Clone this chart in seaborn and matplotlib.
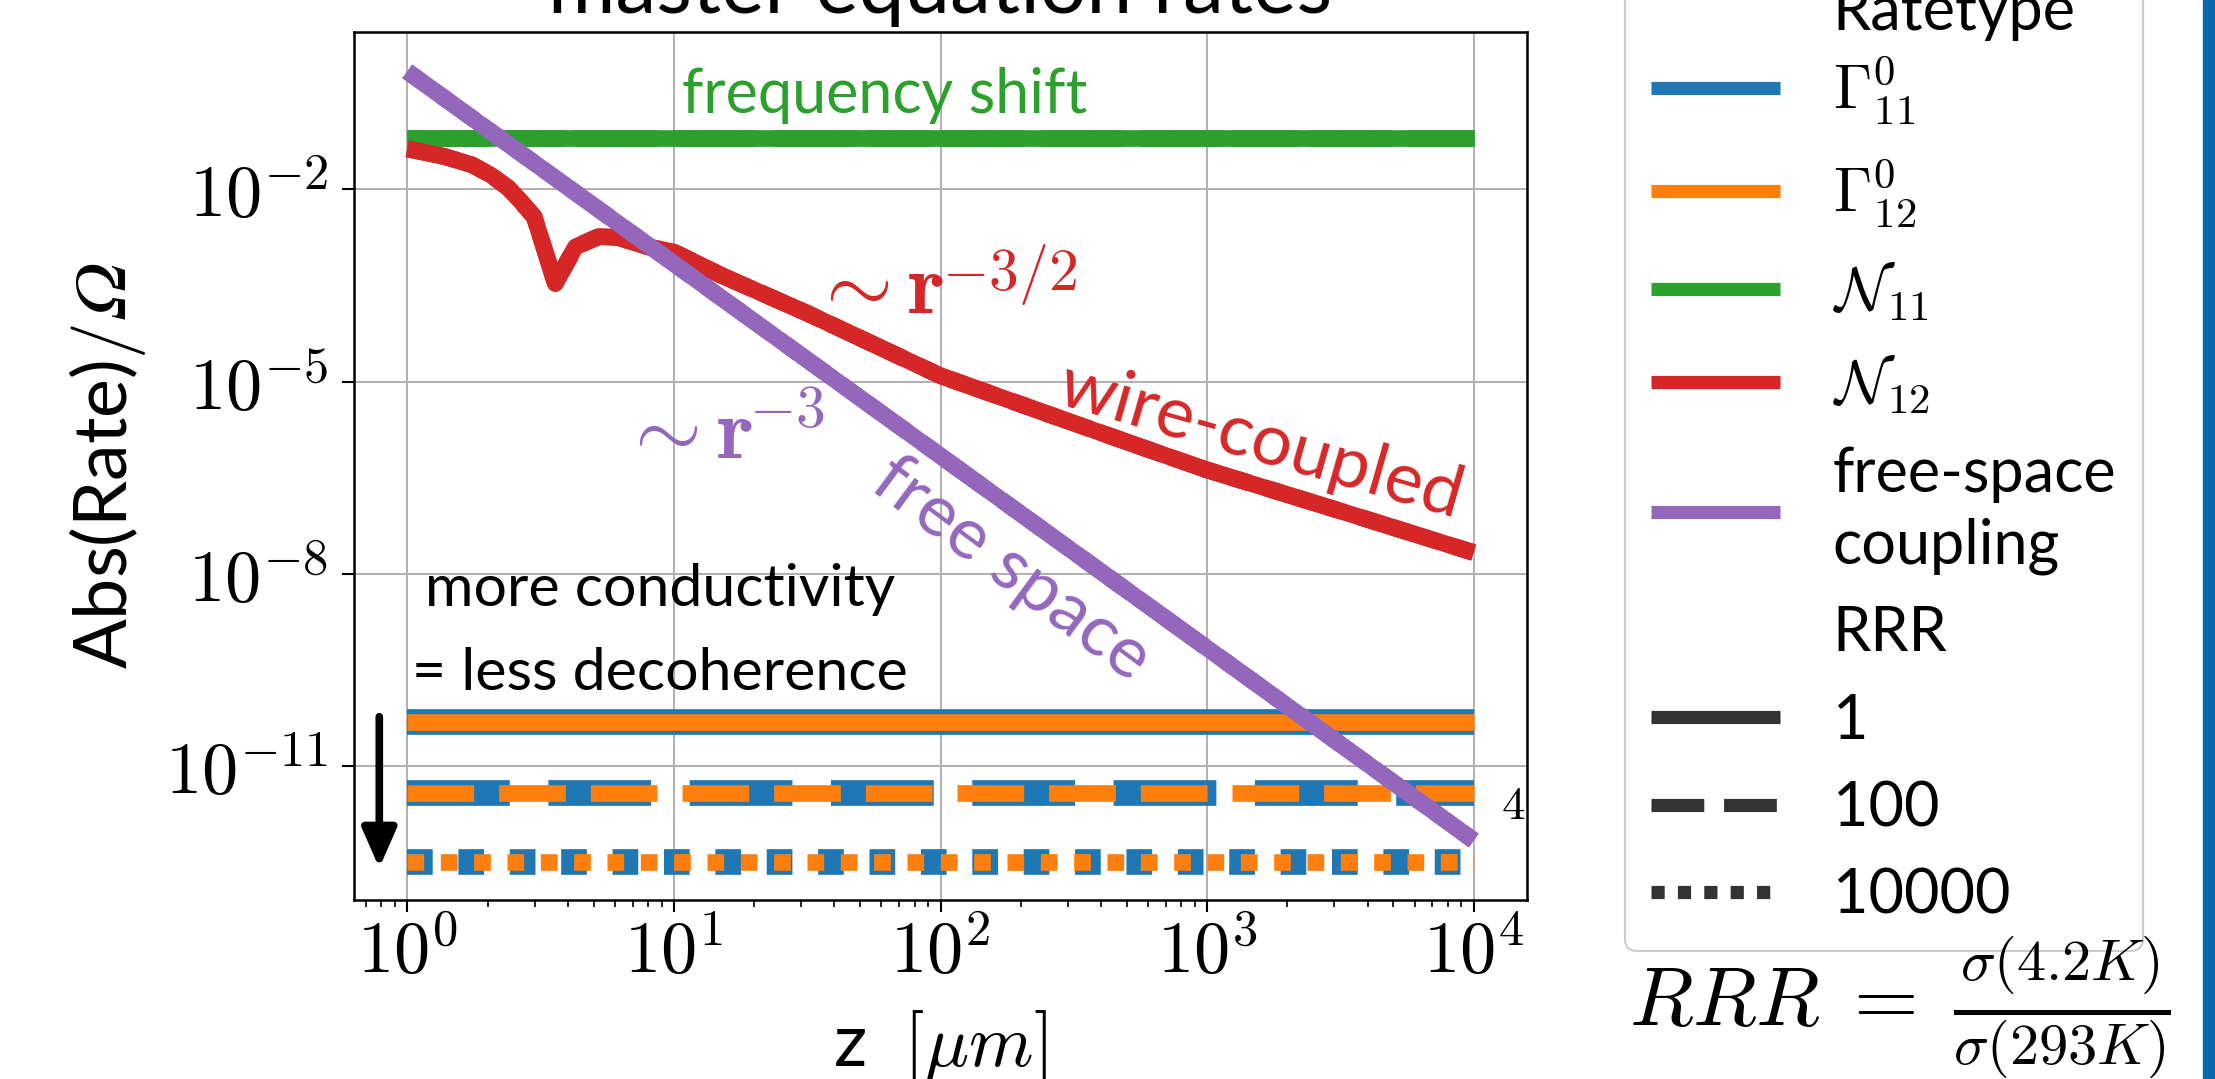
import numpy as np
import pandas as pd
import matplotlib
matplotlib.use("Agg")
import matplotlib.pyplot as plt
import seaborn as sns
from matplotlib.patches import Rectangle
from matplotlib.ticker import NullLocator, NullFormatter, FuncFormatter, FixedLocator
from matplotlib.colors import to_hex

# ---------------- data ----------------
rate_types = [r"$\Gamma^0_{11}$", r"$\Gamma^0_{12}$", r"$\mathcal{N}_{11}$",
              r"$\mathcal{N}_{12}$", "free-space\ncoupling"]
rrr_levels = [1, 100, 10000]
colors = ["#1f77b4", "#ff7f0e", "#2ca02c", "#d62728", "#9467bd"]

z_ends = [1.0, 1.0e4]
gamma11 = [4.8e-11, 3.8e-12, 3.2e-13]      # per RRR level
gamma12 = [4.8e-11, 3.8e-12, 3.2e-13]
n11_level = 6.3e-2
free_space = [0.69, 0.69e-12]              # at z = 1 and z = 1e4

z_wire = [1.0, 1.38, 1.75, 2.06, 2.39, 2.64, 2.99, 3.59, 4.27, 5.21, 6.15,
          8.02, 10.0, 15.0, 31.5, 100.0, 316.0, 611.0, 1000.0, 3162.0, 10000.0]
n12 = [4.27e-2, 3.24e-2, 2.40e-2, 1.66e-2, 1.05e-2, 6.76e-3, 3.72e-3, 3.39e-4,
       1.26e-3, 1.82e-3, 1.78e-3, 1.26e-3, 1.05e-3, 4.57e-4, 1.17e-4, 1.23e-5,
       2.24e-6, 8.51e-7, 4.17e-7, 9.55e-8, 2.14e-8]

y_ticks = [1e-2, 1e-5, 1e-8, 1e-11]
x_ticks = [1e0, 1e1, 1e2, 1e3, 1e4]

# ---------------- long-form table ----------------
rows = []
for i, rrr in enumerate(rrr_levels):
    for z in z_ends:
        rows.append((z, gamma11[i], rate_types[0], rrr))
    for z in z_ends:
        rows.append((z, gamma12[i], rate_types[1], rrr))
    for z in z_ends:
        rows.append((z, n11_level, rate_types[2], rrr))
    for z, v in zip(z_wire, n12):
        rows.append((z, v, rate_types[3], rrr))
    for z, v in zip(z_ends, free_space):
        rows.append((z, v, rate_types[4], rrr))
df = pd.DataFrame(rows, columns=["z", "Rate", "Ratetype", "RRR"])

# ---------------- style ----------------
sns.set_theme(style="whitegrid")
plt.rcParams.update({
    "axes.edgecolor": "black",
    "axes.linewidth": 1.8,
    "grid.color": "#b0b0b0",
    "grid.linewidth": 1.4,
    "mathtext.fontset": "cm",
    "legend.edgecolor": "0.8",
    "text.color": "black",
    "axes.labelcolor": "black",
    "xtick.color": "black",
    "ytick.color": "black",
    "lines.solid_capstyle": "butt",
    "lines.dash_capstyle": "butt",
})
plt.rcParams["font.family"] = ["Lato", "DejaVu Sans"]

W, H = 2215, 1079
fig = plt.figure(figsize=(W / 100, H / 100), dpi=100)
ax = fig.add_axes([354 / W, 1 - 900 / H, (1527 - 354) / W, (900 - 32) / H])
ax.set_xscale("log")
ax.set_yscale("log")

palette = dict(zip(rate_types, colors))
sns.lineplot(data=df, x="z", y="Rate", hue="Ratetype", style="RRR",
             hue_order=rate_types, style_order=rrr_levels, palette=palette,
             dashes={1: "", 100: (4, 1.5), 10000: (1, 1)},
             linewidth=12, estimator=None, ax=ax)

for ln in ax.lines:
    ln.set_solid_capstyle("butt")
    if to_hex(ln.get_color()) == colors[0]:
        ln.set_linewidth(18.5)

ax.set_xlim(10 ** -0.2, 10 ** 4.2)
ax.set_ylim(10 ** -13.09, 10 ** 0.454)

exp_fmt = FuncFormatter(lambda v, p: r"$10^{%d}$" % int(round(np.log10(v))))
ax.yaxis.set_major_locator(FixedLocator(y_ticks))
ax.yaxis.set_minor_locator(NullLocator())
ax.xaxis.set_major_locator(FixedLocator(x_ticks))
ax.xaxis.set_major_formatter(exp_fmt)
ax.yaxis.set_major_formatter(exp_fmt)
ax.xaxis.set_minor_formatter(NullFormatter())
ax.tick_params(which="major", bottom=True, left=True, length=8.6, width=1.5,
               direction="out", labelsize=52)
ax.tick_params(axis="x", which="major", pad=4)
ax.tick_params(axis="y", which="major", pad=10)
ax.tick_params(which="minor", bottom=True, length=5, width=1.2, direction="out")
ax.grid(True, which="major")
ax.grid(False, which="minor")

ax.set_xlabel(r"z  $[\mu m]$", fontsize=53, labelpad=16)
ax.set_ylabel("Abs(Rate)$/\U0001D6FA$", fontsize=53, labelpad=12)
ax.set_title("master equation rates", fontsize=59, pad=13.7)

# ---------------- annotations ----------------
ax.text(61.8, 0.155, "frequency shift", color=colors[2], fontsize=44,
        ha="center", va="baseline")
ax.text(32.3, 1.175e-4, r"$\sim \mathbf{r}$", color=colors[3],
        fontsize=62, ha="left", va="baseline")
ax.text(101.2, 2.69e-4, r"$\mathbf{-3/2}$", color=colors[3],
        fontsize=43, ha="left", va="baseline")
ax.text(1596, 1.17e-6, "wire-coupled", color=colors[3], fontsize=52,
        rotation=-16, ha="center", va="center", rotation_mode="anchor")
ax.text(6.2, 6.34e-7, r"$\sim \mathbf{r}$", color=colors[4],
        fontsize=62, ha="left", va="baseline")
ax.text(19.2, 1.96e-6, r"$\mathbf{-3}$", color=colors[4],
        fontsize=43, ha="left", va="baseline")
ax.text(185, 1.2e-8, "free space", color=colors[4], fontsize=52,
        rotation=-36.5, ha="center", va="center", rotation_mode="anchor")
ax.text(8.84, 10 ** -8.51, "more conductivity", color="black", fontsize=42.5,
        ha="center", va="baseline")
ax.text(8.84, 10 ** -9.81, "= less decoherence", color="black", fontsize=42.5,
        ha="center", va="baseline")
ax.text(14100, 10 ** -11.62, r"$4$", color="black", fontsize=34,
        ha="center", va="center")
ax.annotate("", xy=(0.785, 10 ** -12.59), xytext=(0.785, 10 ** -10.23),
            arrowprops=dict(arrowstyle="-|>,head_length=0.66,head_width=0.29",
                            mutation_scale=36, lw=5.5, color="black",
                            shrinkA=0, shrinkB=0),
            annotation_clip=False)

# ---------------- legend ----------------
sns.move_legend(ax, "lower left", bbox_to_anchor=(1625 / W, 1 - 951 / H),
                bbox_transform=fig.transFigure, frameon=True, fontsize=44,
                handlelength=2.1, handletextpad=0.87, borderpad=0.43,
                labelspacing=0.5, borderaxespad=0, fancybox=True,
                edgecolor="0.8", framealpha=1)
leg = ax.get_legend()
for h in leg.legend_handles:
    if h is not None:
        h.set_linewidth(9.5)
for t in leg.get_texts():
    if "\n" in t.get_text():
        t.set_linespacing(1.3)
    if t.get_text() == "Ratetype":
        t.set_y(-17)
leg.get_frame().set_linewidth(1.5)

fig.text(1900 / W, 1 - 1008 / H,
         r"$RRR\;=\;\frac{\sigma(4.2K)}{\sigma(293K)}$",
         fontsize=60, ha="center", va="center")

fig.add_artist(Rectangle((2203 / W, 0), 12 / W, 1, transform=fig.transFigure,
                         color="#0868ac", zorder=10))

fig.savefig("out.png", dpi=100)
